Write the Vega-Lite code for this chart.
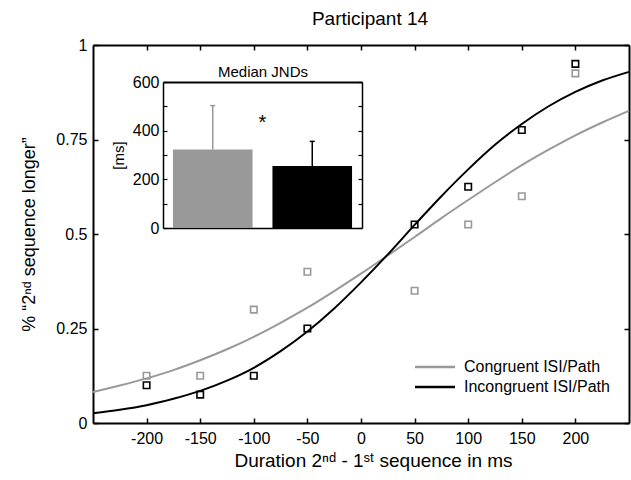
{
  "$schema": "https://vega.github.io/schema/vega-lite/v6.json",
  "width": 536,
  "height": 378,
  "autosize": {"type": "none"},
  "padding": {"left": 93, "top": 45, "right": 2, "bottom": 57},
  "config": {
    "font": "Liberation Sans",
    "view": {"stroke": null},
    "axis": {"domainColor": "#000", "tickColor": "#000", "labelColor": "#000", "titleColor": "#000", "grid": false, "labelFont": "Liberation Sans", "titleFont": "Liberation Sans", "titleFontWeight": "normal"}
  },
  "title": {"text": "Participant 14", "fontSize": 19, "fontWeight": "normal", "color": "#000", "frame": "group", "dx": 9, "offset": 8},
  "datasets": {
    "fits": [
      {"cond": "Congruent ISI/Path", "x": -250, "p": 0.082},
      {"cond": "Congruent ISI/Path", "x": -225, "p": 0.099},
      {"cond": "Congruent ISI/Path", "x": -200, "p": 0.118},
      {"cond": "Congruent ISI/Path", "x": -175, "p": 0.140},
      {"cond": "Congruent ISI/Path", "x": -150, "p": 0.166},
      {"cond": "Congruent ISI/Path", "x": -125, "p": 0.195},
      {"cond": "Congruent ISI/Path", "x": -100, "p": 0.228},
      {"cond": "Congruent ISI/Path", "x": -75, "p": 0.265},
      {"cond": "Congruent ISI/Path", "x": -50, "p": 0.305},
      {"cond": "Congruent ISI/Path", "x": -25, "p": 0.349},
      {"cond": "Congruent ISI/Path", "x": 0, "p": 0.395},
      {"cond": "Congruent ISI/Path", "x": 25, "p": 0.443},
      {"cond": "Congruent ISI/Path", "x": 50, "p": 0.492},
      {"cond": "Congruent ISI/Path", "x": 75, "p": 0.542},
      {"cond": "Congruent ISI/Path", "x": 100, "p": 0.590},
      {"cond": "Congruent ISI/Path", "x": 125, "p": 0.637},
      {"cond": "Congruent ISI/Path", "x": 150, "p": 0.682},
      {"cond": "Congruent ISI/Path", "x": 175, "p": 0.723},
      {"cond": "Congruent ISI/Path", "x": 200, "p": 0.761},
      {"cond": "Congruent ISI/Path", "x": 225, "p": 0.795},
      {"cond": "Congruent ISI/Path", "x": 250, "p": 0.826},
      {"cond": "Incongruent ISI/Path", "x": -250, "p": 0.026},
      {"cond": "Incongruent ISI/Path", "x": -225, "p": 0.035},
      {"cond": "Incongruent ISI/Path", "x": -200, "p": 0.047},
      {"cond": "Incongruent ISI/Path", "x": -175, "p": 0.064},
      {"cond": "Incongruent ISI/Path", "x": -150, "p": 0.085},
      {"cond": "Incongruent ISI/Path", "x": -125, "p": 0.112},
      {"cond": "Incongruent ISI/Path", "x": -100, "p": 0.146},
      {"cond": "Incongruent ISI/Path", "x": -75, "p": 0.190},
      {"cond": "Incongruent ISI/Path", "x": -50, "p": 0.242},
      {"cond": "Incongruent ISI/Path", "x": -25, "p": 0.303},
      {"cond": "Incongruent ISI/Path", "x": 0, "p": 0.372},
      {"cond": "Incongruent ISI/Path", "x": 25, "p": 0.446},
      {"cond": "Incongruent ISI/Path", "x": 50, "p": 0.524},
      {"cond": "Incongruent ISI/Path", "x": 75, "p": 0.600},
      {"cond": "Incongruent ISI/Path", "x": 100, "p": 0.671},
      {"cond": "Incongruent ISI/Path", "x": 125, "p": 0.736},
      {"cond": "Incongruent ISI/Path", "x": 150, "p": 0.791},
      {"cond": "Incongruent ISI/Path", "x": 175, "p": 0.838},
      {"cond": "Incongruent ISI/Path", "x": 200, "p": 0.876},
      {"cond": "Incongruent ISI/Path", "x": 225, "p": 0.906},
      {"cond": "Incongruent ISI/Path", "x": 250, "p": 0.929}
    ],
    "obs": [
      {"cond": "Congruent ISI/Path", "x": -200, "p": 0.125},
      {"cond": "Congruent ISI/Path", "x": -150, "p": 0.125},
      {"cond": "Congruent ISI/Path", "x": -100, "p": 0.3},
      {"cond": "Congruent ISI/Path", "x": -50, "p": 0.4},
      {"cond": "Congruent ISI/Path", "x": 50, "p": 0.35},
      {"cond": "Congruent ISI/Path", "x": 100, "p": 0.525},
      {"cond": "Congruent ISI/Path", "x": 150, "p": 0.6},
      {"cond": "Congruent ISI/Path", "x": 200, "p": 0.925},
      {"cond": "Incongruent ISI/Path", "x": -200, "p": 0.1},
      {"cond": "Incongruent ISI/Path", "x": -150, "p": 0.075},
      {"cond": "Incongruent ISI/Path", "x": -100, "p": 0.125},
      {"cond": "Incongruent ISI/Path", "x": -50, "p": 0.25},
      {"cond": "Incongruent ISI/Path", "x": 50, "p": 0.525},
      {"cond": "Incongruent ISI/Path", "x": 100, "p": 0.625},
      {"cond": "Incongruent ISI/Path", "x": 150, "p": 0.775},
      {"cond": "Incongruent ISI/Path", "x": 200, "p": 0.95}
    ],
    "jnd": [
      {"cond": "Congruent ISI/Path", "jnd": 323, "upper": 503},
      {"cond": "Incongruent ISI/Path", "jnd": 255, "upper": 356}
    ],
    "sig": [
      {"cond": "Incongruent ISI/Path", "s": "*", "v": 430}
    ]
  },
  "layer": [
    {
      "layer": [
        {
          "data": {"name": "fits"},
          "mark": {"type": "line", "strokeWidth": 2, "interpolate": "monotone"},
          "encoding": {
            "x": {"field": "x", "type": "quantitative",
              "scale": {"domain": [-250, 250], "nice": false, "zero": false},
              "axis": {"orient": "bottom", "values": [-200, -150, -100, -50, 0, 50, 100, 150, 200], "labelExpr": "'' + datum.value", "tickSize": -5, "tickWidth": 1.5, "domainWidth": 2, "labelFontSize": 16, "labelPadding": 12, "title": "Duration 2ⁿᵈ - 1ˢᵗ sequence in ms", "titleFontSize": 19, "titlePadding": 5, "titleX": 280}},
            "y": {"field": "p", "type": "quantitative",
              "scale": {"domain": [0, 1], "nice": false},
              "axis": {"orient": "left", "values": [0, 0.25, 0.5, 0.75, 1], "labelExpr": "'' + datum.value", "tickSize": -5, "tickWidth": 1.5, "domainWidth": 2, "labelFontSize": 16, "labelPadding": 11, "title": "% “2ⁿᵈ sequence longer”", "titleFontSize": 18, "titlePadding": 17}},
            "color": {"field": "cond", "type": "nominal",
              "scale": {"domain": ["Congruent ISI/Path", "Incongruent ISI/Path"], "range": ["#999999", "#000000"]},
              "legend": {"orient": "none", "legendX": 334, "legendY": 314, "title": null, "padding": 0, "symbolType": "M-4,0H4", "symbolSize": 100, "symbolStrokeWidth": 2.5, "labelFontSize": 16, "labelColor": "#000", "labelOffset": 21, "rowPadding": 4, "labelFont": "Liberation Sans"}}
          }
        },
        {
          "data": {"name": "obs"},
          "mark": {"type": "point", "shape": "square", "filled": false, "size": 42, "strokeWidth": 1.6, "opacity": 1},
          "encoding": {
            "x": {"field": "x", "type": "quantitative"},
            "y": {"field": "p", "type": "quantitative"},
            "stroke": {"field": "cond", "type": "nominal",
              "scale": {"domain": ["Congruent ISI/Path", "Incongruent ISI/Path"], "range": ["#999999", "#000000"]},
              "legend": null}
          }
        }
      ]
    },
    {
      "data": {"name": "obs"},
      "mark": {"type": "point", "opacity": 0},
      "encoding": {
        "x": {"field": "x", "type": "quantitative",
          "scale": {"domain": [-250, 250], "nice": false, "zero": false},
          "axis": {"orient": "top", "values": [-200, -150, -100, -50, 0, 50, 100, 150, 200], "labels": false, "tickSize": -5, "tickWidth": 1.5, "domainWidth": 2, "title": null}},
        "y": {"field": "p", "type": "quantitative",
          "scale": {"domain": [0, 1], "nice": false},
          "axis": {"orient": "right", "values": [0, 0.25, 0.5, 0.75, 1], "labels": false, "tickSize": -5, "tickWidth": 1.5, "domainWidth": 2, "title": null}}
      }
    },
    {
      "layer": [
        {
          "data": {"name": "jnd"},
          "mark": {"type": "bar"},
          "encoding": {
            "x": {"field": "cond", "type": "nominal",
              "scale": {"domain": ["Congruent ISI/Path", "Incongruent ISI/Path"], "range": [70, 269], "paddingInner": 0.2, "paddingOuter": 0.1},
              "axis": {"orient": "bottom", "offset": -195, "labels": false, "ticks": false, "title": null, "domainWidth": 1.5}},
            "y": {"field": "jnd", "type": "quantitative",
              "scale": {"domain": [0, 600], "range": [183, 37], "nice": false},
              "axis": {"orient": "left", "offset": -70, "values": [0, 100, 200, 300, 400, 500, 600], "labelExpr": "datum.value % 200 === 0 ? datum.label : ''", "tickSize": -4, "tickWidth": 1.2, "domainWidth": 1.5, "labelFontSize": 16, "labelPadding": 8, "title": "[ms]", "titleFontSize": 15, "titlePadding": 6}},
            "fill": {"field": "cond", "type": "nominal",
              "scale": {"domain": ["Congruent ISI/Path", "Incongruent ISI/Path"], "range": ["#999999", "#000000"]},
              "legend": null}
          }
        },
        {
          "data": {"name": "jnd"},
          "mark": {"type": "rule", "strokeWidth": 1.5},
          "encoding": {
            "x": {"field": "cond", "type": "nominal"},
            "y": {"field": "jnd", "type": "quantitative"},
            "y2": {"field": "upper"},
            "stroke": {"field": "cond", "type": "nominal", "legend": null}
          }
        },
        {
          "data": {"name": "jnd"},
          "mark": {"type": "tick", "size": 5, "thickness": 1.5, "orient": "horizontal", "opacity": 1},
          "encoding": {
            "x": {"field": "cond", "type": "nominal"},
            "y": {"field": "upper", "type": "quantitative"},
            "fill": {"field": "cond", "type": "nominal", "legend": null}
          }
        },
        {
          "data": {"name": "sig"},
          "mark": {"type": "text", "fontSize": 20, "dx": -10, "baseline": "middle", "align": "center", "color": "#000"},
          "encoding": {
            "x": {"field": "cond", "type": "nominal", "bandPosition": 0},
            "y": {"field": "v", "type": "quantitative"},
            "text": {"field": "s"}
          }
        }
      ]
    },
    {
      "data": {"name": "jnd"},
      "mark": {"type": "bar", "opacity": 0},
      "encoding": {
        "x": {"field": "cond", "type": "nominal",
          "scale": {"domain": ["Congruent ISI/Path", "Incongruent ISI/Path"], "range": [70, 269], "paddingInner": 0.2, "paddingOuter": 0.1},
          "axis": {"orient": "top", "offset": -37, "labels": false, "ticks": false, "title": "Median JNDs", "titleFontSize": 15, "titlePadding": 3, "domainWidth": 2}},
        "y": {"field": "jnd", "type": "quantitative",
          "scale": {"domain": [0, 600], "range": [183, 37], "nice": false},
          "axis": {"orient": "right", "offset": -267, "values": [0, 100, 200, 300, 400, 500, 600], "labels": false, "tickSize": -4, "tickWidth": 1.2, "domainWidth": 1.5, "title": null}}
      }
    }
  ],
  "resolve": {"scale": {"x": "independent", "y": "independent"}}
}
